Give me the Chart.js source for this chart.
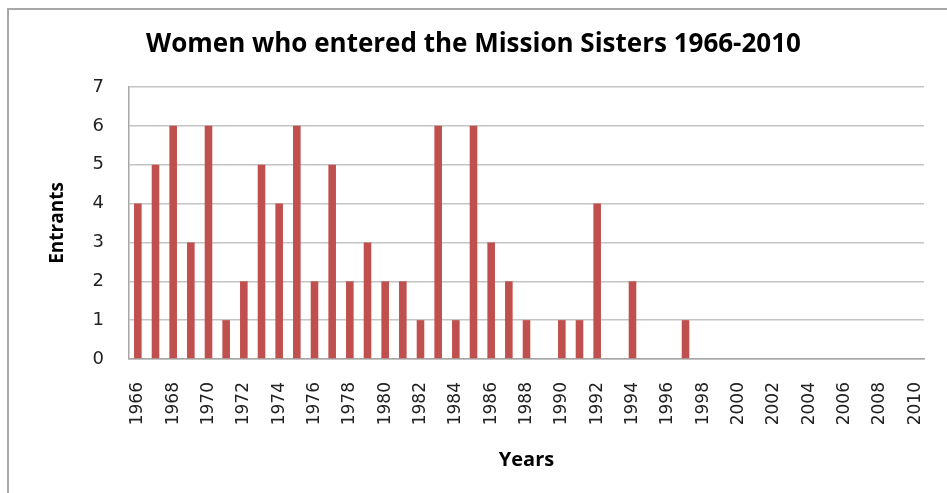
<!DOCTYPE html>
<html>
<head>
<meta charset="utf-8">
<script src="https://cdn.jsdelivr.net/npm/chart.js@4.4.1/dist/chart.umd.min.js"></script>
<style>
  html, body { margin: 0; padding: 0; background: #fff; overflow: hidden; }
  #wrap { position: relative; width: 947px; height: 493px; }
  #frame {
    position: absolute; left: 7px; top: 8px; width: 1200px; height: 800px;
    border-top: 2px solid #a8a8a8; border-left: 2px solid #a8a8a8;
  }
</style>
</head>
<body>
<div id="wrap">
  <div id="frame"></div>
  <canvas id="chart-entrants"></canvas>
</div>
<script>
// data
const years = [];
for (let y = 1966; y <= 2010; y++) years.push(String(y));

const entrants = [
  4, 5, 6, 3, 6, 1, 2, 5, 4, 6,   // 1966-1975
  2, 5, 2, 3, 2, 2, 1, 6, 1, 6,   // 1976-1985
  3, 2, 1, 0, 1, 1, 4, 0, 2, 0,   // 1986-1995
  0, 1, 0, 0, 0, 0, 0, 0, 0, 0,   // 1996-2005
  0, 0, 0, 0, 0                   // 2006-2010
];

const yTicks = [0, 1, 2, 3, 4, 5, 6, 7];

const chartEntrants = document.getElementById('chart-entrants');

new Chart(chartEntrants, {
  type: 'bar',
  data: {
    labels: years,
    datasets: [{
      label: 'Entrants',
      data: entrants,
      backgroundColor: '#C0504D',
      borderWidth: 0,
      barPercentage: 0.43,
      categoryPercentage: 1
    }]
  },
  options: {
    responsive: true,
    maintainAspectRatio: false,
    animation: false,
    layout: {
      padding: 0
    },
    plugins: {
      legend: { display: false },
      tooltip: { enabled: false },
      title: {
        display: true,
        text: 'Women who entered the Mission Sisters 1966-2010',
        color: '#000',
        font: { family: 'Open Sans', size: 26, weight: 'bold', lineHeight: 1.2 },
        padding: { top: 29, bottom: 26.8 }
      }
    },
    scales: {
      x: {
        grid: { display: false, drawTicks: false },
        border: { color: '#a6a6a6', width: 1.5 },
        ticks: {
          autoSkip: false,
          minRotation: 90,
          maxRotation: 90,
          padding: 23,
          color: '#222',
          font: { family: 'DejaVu Sans', size: 17 },
          callback: function(value, index) {
            return index % 2 === 0 ? years[index] : '';
          }
        },
        title: {
          display: true,
          text: 'Years',
          color: '#000',
          font: { family: 'Open Sans', size: 20, weight: 'bold', lineHeight: 1.2 },
          padding: { top: 0, bottom: 21 }
        },
        afterFit: function(scale) {
          scale.height = 134;
          scale.paddingLeft = 0;
          scale.paddingRight = 23;   // keeps the plot clear of the right edge
        }
      },
      y: {
        min: 0,
        max: 7,
        grid: { color: '#c4c4c4', lineWidth: 1.5, drawTicks: false },
        border: { color: '#a6a6a6', width: 1.5 },
        afterBuildTicks: function(scale) {
          scale.ticks = yTicks.map(v => ({ value: v }));
        },
        ticks: {
          padding: 25,
          color: '#222',
          font: { family: 'DejaVu Sans', size: 18 }
        },
        title: {
          display: true,
          text: 'Entrants',
          color: '#000',
          font: { family: 'Open Sans', size: 19, weight: 'bold', lineHeight: 1.2 },
          padding: { top: 46, bottom: 0 }
        },
        afterFit: function(scale) { scale.width = 129; }
      }
    }
  }
});
</script>
</body>
</html>
